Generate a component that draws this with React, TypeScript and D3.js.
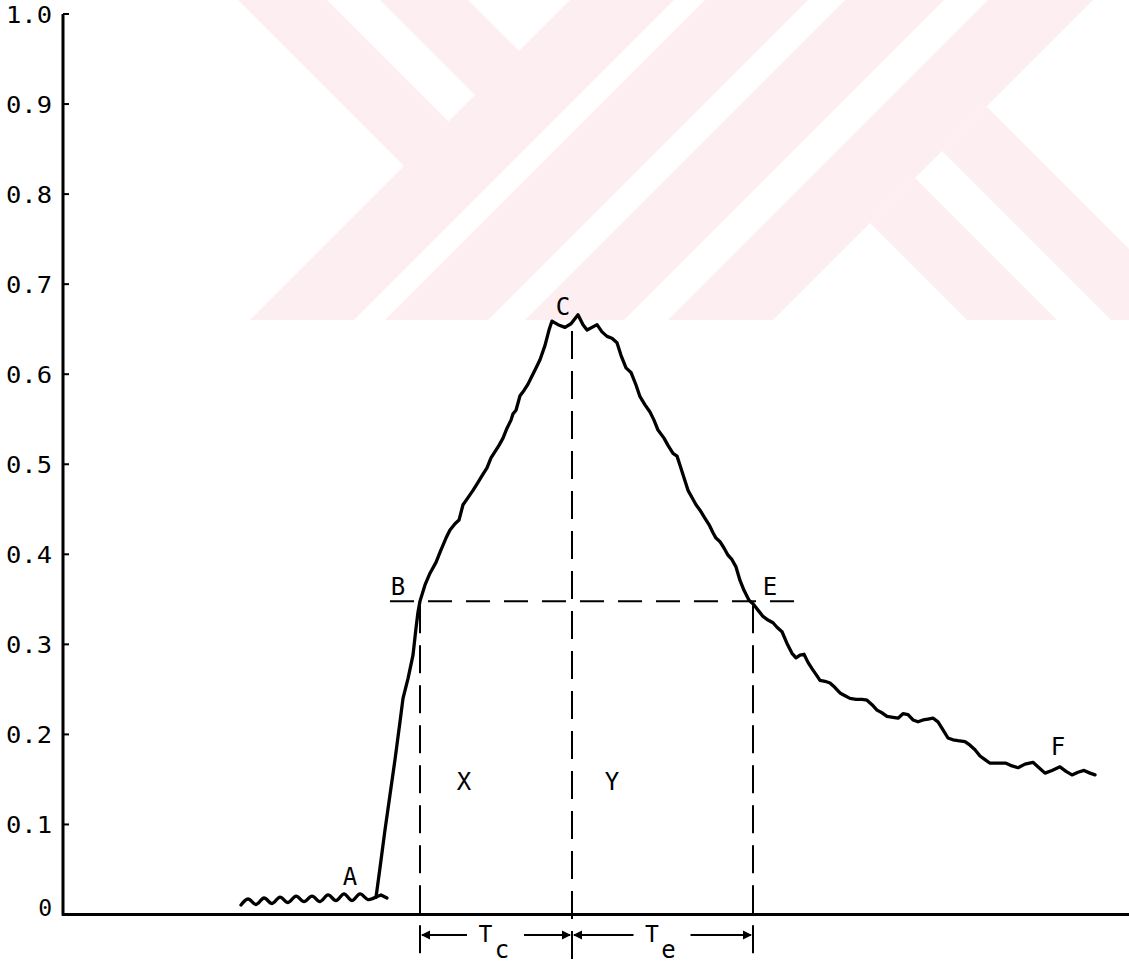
import React from "react";
import * as d3 from "d3";

const width = 1129;
const height = 964;

// ─── y axis ticks ────────────────────────────────────────────────────────
const yTicks = [0, 0.1, 0.2, 0.3, 0.4, 0.5, 0.6, 0.7, 0.8, 0.9, 1.0];
const yTickLabels = ["0", "0.1", "0.2", "0.3", "0.4", "0.5", "0.6", "0.7", "0.8", "0.9", "1.0"];

// ─── baseline before the step (segment A) ────────────────────────────────
const baseTime = [178, 185, 193, 201, 209, 217, 225, 233, 241, 249, 257, 265, 273, 281, 289, 297, 305, 313];
const baseValue = [0.0105, 0.0172, 0.0111, 0.0183, 0.0122, 0.0194, 0.0133, 0.0205, 0.0144, 0.0205, 0.0144, 0.0217, 0.0155, 0.0228, 0.0155, 0.0228, 0.0166, 0.0194];
const tailTime = [313, 318, 324];
const tailValue = [0.0194, 0.0217, 0.0183];

// ─── response curve A → B → C → E → F ────────────────────────────────────
const responseTime = [
  313, 317, 322, 327, 332, 337, 340, 345, 350, 353, 355, 357, 362, 367, 373, 378, 383, 387, 392, 396, 400,
  405, 410, 415, 420, 424, 428, 432, 436, 440, 444, 448, 450, 453, 457, 461, 465, 469, 473, 477, 482,
  486, 489, 495, 502, 508, 515, 520, 524, 529, 534, 539, 544, 549, 554, 558, 563, 568, 573, 577, 582,
  587, 591, 595, 601, 605, 610, 614, 617, 621, 625, 629, 633, 637, 642, 646, 650, 653, 657, 661, 665,
  669, 673, 677, 681, 686, 690, 695, 700, 705, 710, 714, 719, 724, 729, 733, 737, 741, 745, 749, 754,
  757, 762, 767, 772, 777, 782, 787, 793, 799, 804, 809, 814, 819, 824, 830, 835, 840, 845, 850, 855,
  860, 865, 870, 875, 880, 885, 890, 895, 902, 907, 912, 917, 922, 927, 932, 937, 943, 949, 955, 962,
  970, 976, 982, 989, 997, 1003, 1009, 1015, 1021, 1027, 1032,
];
const responseValue = [
  0.019, 0.052, 0.094, 0.133, 0.172, 0.214, 0.24, 0.262, 0.288, 0.318, 0.336, 0.348, 0.366, 0.379, 0.391, 0.405, 0.418, 0.427, 0.434, 0.438, 0.455,
  0.463, 0.471, 0.48, 0.489, 0.496, 0.507, 0.514, 0.521, 0.529, 0.54, 0.549, 0.556, 0.56, 0.576, 0.582, 0.589, 0.598, 0.607, 0.616, 0.632,
  0.649, 0.659, 0.655, 0.652, 0.656, 0.666, 0.655, 0.649, 0.652, 0.655, 0.647, 0.642, 0.64, 0.635, 0.621, 0.607, 0.602, 0.588, 0.575, 0.566,
  0.558, 0.549, 0.538, 0.529, 0.521, 0.512, 0.509, 0.499, 0.485, 0.471, 0.463, 0.455, 0.449, 0.44, 0.433, 0.424, 0.418, 0.414, 0.407, 0.399,
  0.394, 0.386, 0.371, 0.36, 0.349, 0.345, 0.338, 0.331, 0.327, 0.324, 0.319, 0.314, 0.301, 0.29, 0.285, 0.288, 0.289, 0.28, 0.273, 0.265,
  0.26, 0.259, 0.257, 0.252, 0.246, 0.243, 0.24, 0.239, 0.239, 0.238, 0.233, 0.227, 0.224, 0.22, 0.219, 0.218, 0.223, 0.222, 0.216, 0.214,
  0.216, 0.217, 0.218, 0.214, 0.205, 0.196, 0.194, 0.193, 0.192, 0.188, 0.183, 0.176, 0.172, 0.168, 0.168, 0.168, 0.168, 0.165, 0.163, 0.167,
  0.169, 0.163, 0.157, 0.16, 0.164, 0.159, 0.155, 0.158, 0.16, 0.157, 0.155,
];

// ─── construction lines ──────────────────────────────────────────────────
const timeB = 357;
const timeC = 509;
const timeE = 690;
const levelBE = 0.348;
const levelC = 0.648;
const hLineStart = 327;
const hLineEnd = 743;
const dropBottom = -0.053;
const arrowLevel = -0.0228;

const pointLabels = ["A", "B", "C", "E", "F", "X", "Y"];
const pointLabelTime = [287, 335, 500, 707, 995, 401, 549];
const pointLabelValue = [0.033, 0.355, 0.666, 0.355, 0.177, 0.138, 0.138];

// background watermark (pale logo bands, page pixels)
const slashBands = [[570, 674], [705, 808], [845, 944], [988, 1093]];
const backBandsLeft = [[238, 327], [380, 468]];
const backBandsRight = [[647, 737], [791, 880]];
const wmBottom = 320;

const FONT = "'DejaVu Sans Mono', monospace";

function Watermark() {
  const polys: string[] = [];
  slashBands.forEach(([a, b]) => {
    polys.push(`${a},0 ${b},0 ${b - wmBottom},${wmBottom} ${a - wmBottom},${wmBottom}`);
  });
  const eL = 572;
  backBandsLeft.forEach(([c, d]) => {
    polys.push(`${c},0 ${d},0 ${(d + eL) / 2},${(eL - d) / 2} ${(c + eL) / 2},${(eL - c) / 2}`);
  });
  const eR = 1093;
  backBandsRight.forEach(([c, d]) => {
    polys.push(`${(c + eR) / 2},${(eR - c) / 2} ${(d + eR) / 2},${(eR - d) / 2} ${d + wmBottom},${wmBottom} ${c + wmBottom},${wmBottom}`);
  });
  return (
    <g fill="#fdeef1">
      {polys.map((p, i) => <polygon key={i} points={p} />)}
    </g>
  );
}

export default function App() {
  React.useEffect(() => {
    document.body.style.margin = "0";
  }, []);

  const x = d3.scaleLinear().domain([0, 1066]).range([63, 1129]);
  const y = d3.scaleLinear().domain([0, 1]).range([914.5, 14]);

  const line = d3
    .line<[number, number]>()
    .x((d) => x(d[0]))
    .y((d) => y(d[1]))
    .curve(d3.curveLinear);

  const wavy = d3
    .line<[number, number]>()
    .x((d) => x(d[0]))
    .y((d) => y(d[1]))
    .curve(d3.curveCatmullRom);

  const basePts = baseTime.map((t, i) => [t, baseValue[i]] as [number, number]);
  const tailPts = tailTime.map((t, i) => [t, tailValue[i]] as [number, number]);
  const respPts = responseTime.map((t, i) => [t, responseValue[i]] as [number, number]);

  const ay = y(arrowLevel);
  const arrowHead = (px: number, dir: number) => {
    // dir: -1 points left, +1 points right
    const len = 9;
    return `M${px},${ay} L${px - dir * len},${ay - 4.5} L${px - dir * len},${ay + 4.5} Z`;
  };

  const spans = [
    { from: timeB, to: timeC, sub: "c" },
    { from: timeC, to: timeE, sub: "e" },
  ];

  return (
    <svg
      width={width}
      height={height}
      style={{ position: "absolute", left: 0, top: 0, background: "#fff" }}
    >
      <Watermark />

      {/* axes */}
      <line x1={x(0)} x2={x(0)} y1={y(0) + 1} y2={y(1)} stroke="#000" strokeWidth={3} />
      <line x1={x(0) - 1} x2={width} y1={y(0)} y2={y(0)} stroke="#000" strokeWidth={3} />
      {yTicks.map((v, i) => {
        const lab = yTickLabels[i];
        const single = lab.length === 1;
        return (
          <g key={v}>
            <line x1={x(0)} x2={x(0) + 6} y1={y(v)} y2={y(v)} stroke="#000" strokeWidth={2} />
            {single ? (
              <text x={52} y={y(v) + 1} textAnchor="end" fontFamily={FONT} fontSize={23} fill="#000">
                {lab}
              </text>
            ) : (
              <text
                x={6}
                y={y(v) + 9}
                fontFamily={FONT}
                fontSize={23}
                textLength={46}
                lengthAdjust="spacingAndGlyphs"
                fill="#000"
              >
                {lab}
              </text>
            )}
          </g>
        );
      })}

      {/* construction lines */}
      <g stroke="#000" strokeWidth={2} fill="none">
        <line x1={x(hLineStart)} x2={x(hLineEnd)} y1={y(levelBE)} y2={y(levelBE)} strokeDasharray="24,14" />
        <line x1={x(timeB)} x2={x(timeB)} y1={y(levelBE) + 4} y2={y(dropBottom)} strokeDasharray="28,12" />
        <line x1={x(timeC)} x2={x(timeC)} y1={y(levelC)} y2={y(dropBottom)} strokeDasharray="28,12" />
        <line x1={x(timeE)} x2={x(timeE)} y1={y(levelBE) + 4} y2={y(dropBottom)} strokeDasharray="28,12" />
      </g>

      {/* curve */}
      <g fill="none" stroke="#000" strokeWidth={3.3} strokeLinejoin="round" strokeLinecap="round">
        <path d={wavy(basePts) || ""} />
        <path d={line(tailPts) || ""} />
        <path d={line(respPts) || ""} />
      </g>

      {/* T_c / T_e dimension arrows */}
      {spans.map((s) => {
        const x0 = x(s.from);
        const x1 = x(s.to);
        const mid = (x0 + x1) / 2;
        return (
          <g key={s.sub}>
            <line x1={x0 + 2} x2={mid - 29} y1={ay} y2={ay} stroke="#000" strokeWidth={2} />
            <line x1={mid + 28} x2={x1 - 2} y1={ay} y2={ay} stroke="#000" strokeWidth={2} />
            <path d={arrowHead(x0 + 1, -1)} fill="#000" />
            <path d={arrowHead(x1 - 1, 1)} fill="#000" />
            <text x={mid - 10.5} y={ay + 7} textAnchor="middle" fontFamily={FONT} fontSize={23} fill="#000">T</text>
            <text x={mid + 6} y={ay + 23} textAnchor="middle" fontFamily={FONT} fontSize={24} fill="#000">{s.sub}</text>
          </g>
        );
      })}

      {/* point labels */}
      {pointLabels.map((lab, i) => (
        <text
          key={lab}
          x={x(pointLabelTime[i])}
          y={y(pointLabelValue[i])}
          textAnchor="middle"
          fontFamily={FONT}
          fontSize={24}
          fill="#000"
        >
          {lab}
        </text>
      ))}
    </svg>
  );
}
